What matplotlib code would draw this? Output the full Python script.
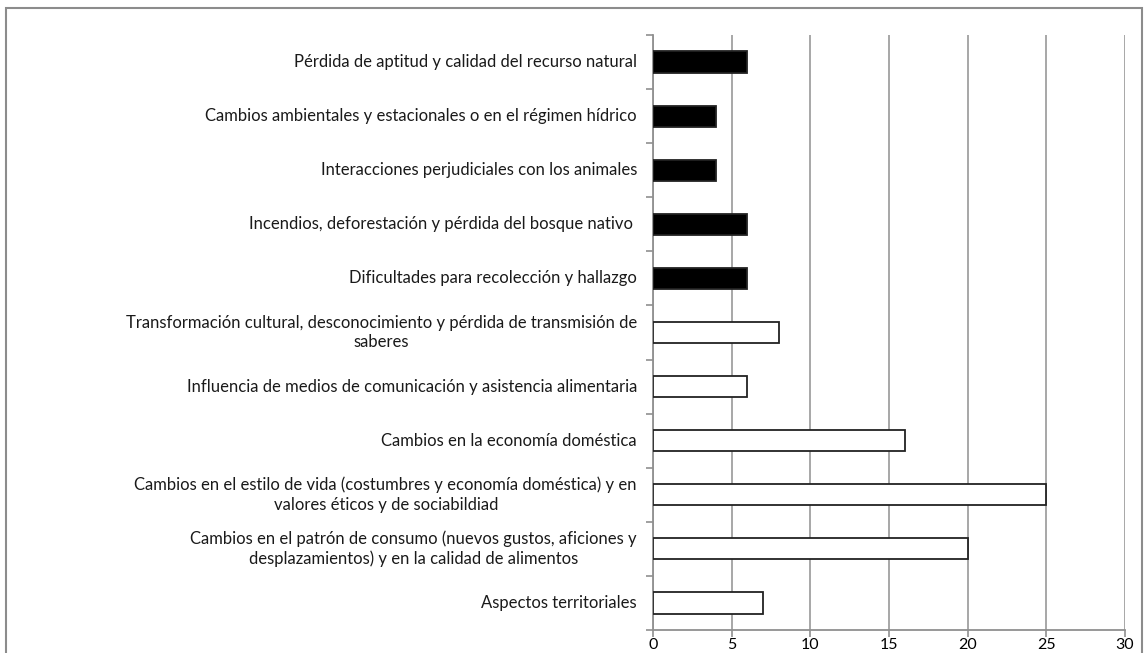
import numpy as np
import matplotlib
matplotlib.use("Agg")
import matplotlib.pyplot as plt
from matplotlib.patches import Rectangle

labels = [
    "Pérdida de aptitud y calidad del recurso natural",
    "Cambios ambientales y estacionales o en el régimen hídrico",
    "Interacciones perjudiciales con los animales",
    "Incendios, deforestación y pérdida del bosque nativo ",
    "Dificultades para recolección y hallazgo",
    "Transformación cultural, desconocimiento y pérdida de transmisión de\nsaberes",
    "Influencia de medios de comunicación y asistencia alimentaria",
    "Cambios en la economía doméstica",
    "Cambios en el estilo de vida (costumbres y economía doméstica) y en\nvalores éticos y de sociabildiad",
    "Cambios en el patrón de consumo (nuevos gustos, aficiones y\ndesplazamientos) y en la calidad de alimentos",
    "Aspectos territoriales",
]
values = [6, 4, 4, 6, 6, 8, 6, 16, 25, 20, 7]
filled = [True, True, True, True, True, False, False, False, False, False, False]

plt.rcParams['font.family'] = ['Lato', 'DejaVu Sans']

fig = plt.figure(figsize=(11.46, 6.53), dpi=100)
ax = fig.add_axes([653/1146, 1 - 630/653, (1125 - 653)/1146, (630 - 35)/653])

n = len(labels)
y = np.arange(n)
colors = ['black' if f else 'white' for f in filled]
ax.barh(y, values, height=0.39, color=colors, edgecolor='#222222', linewidth=1.3, zorder=3)

ax.set_ylim(n - 0.5, -0.5)
ax.set_xlim(0, 30)
ax.set_xticks(np.arange(0, 31, 5))
ax.xaxis.grid(True, color='#a0a0a0', linewidth=1.3, zorder=0)

ax.set_yticks(np.arange(-0.5, n, 1))
ax.set_yticklabels([])
ax.tick_params(axis='y', length=5, color='#909090', width=1.2)
ax.tick_params(axis='x', length=5, color='#909090', width=1.2, labelsize=11.5, pad=1)
for i, lab in enumerate(labels):
    ax.text(-0.034, i, lab, transform=ax.get_yaxis_transform(), ha='right', va='center',
            multialignment='center', fontsize=12, color='#1a1a1a', linespacing=1.25)

for s in ['top', 'right']:
    ax.spines[s].set_visible(False)
for s in ['left', 'bottom']:
    ax.spines[s].set_color('#909090')
    ax.spines[s].set_linewidth(1.3)

fig.patches.append(Rectangle((6/1146, -0.05), (1142 - 6)/1146, 1.05 - 8/653,
                             transform=fig.transFigure, fill=False,
                             edgecolor='#8c8c8c', linewidth=1.5))

fig.savefig("out.png", dpi=100)
